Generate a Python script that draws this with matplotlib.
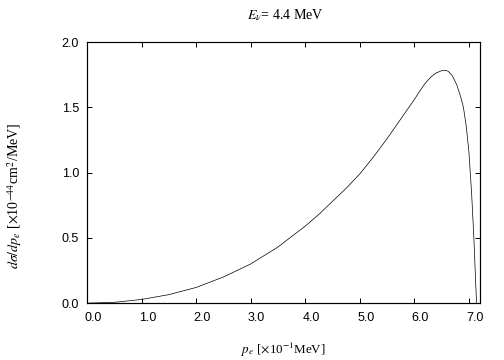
''' cross section vs electron momentum '''
import matplotlib
matplotlib.use('Agg')
import matplotlib.pyplot as plt
from matplotlib.transforms import ScaledTranslation

# values
p_e = [0.0, 0.5, 1.0, 1.5, 2.0, 2.5, 3.0, 3.5, 4.0, 4.25, 4.5, 4.75, 5.0,
       5.25, 5.5, 5.75, 6.0, 6.1, 6.2, 6.3, 6.4, 6.5, 6.56, 6.62, 6.7,
       6.78, 6.85, 6.9, 6.95, 7.0, 7.05, 7.09, 7.12, 7.14]
dsig = [0.0, 0.006, 0.028, 0.065, 0.12, 0.20, 0.30, 0.43, 0.59, 0.68,
        0.78, 0.88, 0.99, 1.12, 1.26, 1.41, 1.56, 1.625, 1.685, 1.732, 1.764,
        1.781, 1.785, 1.777, 1.74, 1.67, 1.58, 1.50, 1.36, 1.16, 0.84,
        0.51, 0.20, 0.0]
xticks = [0.0, 1.0, 2.0, 3.0, 4.0, 5.0, 6.0, 7.0]
yticks = [0.0, 0.5, 1.0, 1.5, 2.0]


def main():
    ''' draw and save '''
    plt.rcParams['mathtext.fontset'] = 'stix'
    plt.rcParams['font.family'] = 'Liberation Sans'

    fig = plt.figure(figsize=(7, 5), dpi=72)
    ax = fig.add_axes([0.1726, 0.158, 0.952 - 0.1726, 0.883 - 0.158])
    ax.plot(p_e, dsig, color='black', linewidth=0.7)

    ax.set_xlim(0, 7.2)
    ax.set_ylim(0, 2.0)
    ax.set_xticks(xticks)
    ax.set_xticklabels([f'{t:.1f}' for t in xticks])
    ax.set_yticks(yticks)
    ax.set_yticklabels([f'{t:.1f}' for t in yticks])
    ax.tick_params(direction='in', top=True, right=True, length=5,
                   width=1, labelsize=12.5)
    ax.tick_params(axis='x', pad=9)
    ax.tick_params(axis='y', pad=8)
    shift = ScaledTranslation(6 / 72, 0, fig.dpi_scale_trans)
    for lab in ax.get_xticklabels():
        lab.set_transform(lab.get_transform() + shift)
    for s in ax.spines.values():
        s.set_linewidth(1.2)

    serif = 'Liberation Serif'
    fig.text(285 / 504, 1 - 15 / 360, r'$E_\nu$= 4.4 MeV', fontsize=14,
             family=serif, ha='center', va='center')
    ax.set_xlabel(r'$p_e$ [$\times$10$^{-1}$MeV]', fontsize=13, family=serif)
    ax.xaxis.set_label_coords(0.5, -0.145)
    ax.set_ylabel(r'$d\sigma/dp_e$ [$\times$10$^{-44}$cm$^2$/MeV]',
                  fontsize=14, family=serif)
    ax.yaxis.set_label_coords(-0.16, 0.41)

    fig.savefig('out.png', dpi=72)


if __name__ == '__main__':
    main()
